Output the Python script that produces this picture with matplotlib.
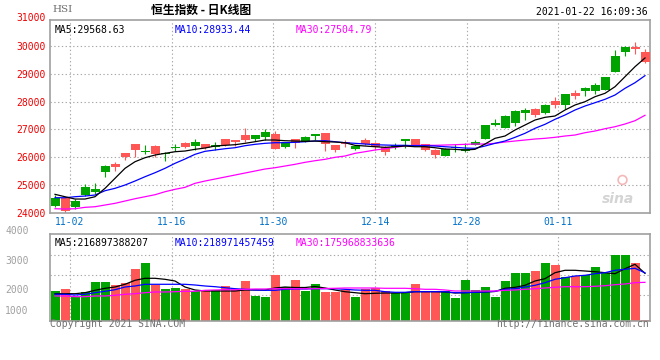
import matplotlib
matplotlib.use("Agg")
import matplotlib.pyplot as plt
import matplotlib.transforms as mtransforms

plt.rcParams['font.family'] = ['DejaVu Sans Mono']

# ---- data (HSI daily, 2020-10-29 .. 2021-01-22) ----
tick_labels = ['11-02', '11-16', '11-30', '12-14', '12-28', '01-11']
tick_index = [2, 12, 22, 32, 41, 50]

opens = [24240, 24539, 24193, 24636, 24755, 25475, 25752, 26137, 26472, 26172,
         26400, 26101, 26339, 26508, 26400, 26460, 26375, 26652, 26616, 26796,
         26663, 26724, 26832, 26375, 26652, 26555, 26771, 26868, 26436, 26555,
         26292, 26616, 26520, 26375, 26375, 26591, 26652, 26472, 26267, 26051,
         26339, 26231, 26436, 26652, 27156, 27060, 27240, 27588, 27732, 27588,
         28020, 27888, 28319, 28391, 28391, 28416, 29064, 29784, 29964, 29795]
highs = [24636, 24560, 24500, 25032, 25080, 25700, 25824, 26160, 26480, 26436,
         26436, 26180, 26472, 26530, 26640, 26480, 26544, 26670, 26630, 27048,
         26810, 27012, 26940, 26560, 26670, 26760, 26850, 26880, 26450, 26620,
         26420, 26680, 26540, 26390, 26520, 26670, 26670, 26490, 26280, 26320,
         26460, 26500, 26630, 27170, 27372, 27500, 27680, 27756, 27780, 27920,
         28164, 28290, 28416, 28510, 28680, 28900, 29856, 29990, 30144, 29880]
lows = [24204, 23960, 24150, 24600, 24672, 25295, 25510, 25896, 26015, 26112,
        26015, 25871, 26210, 26340, 26256, 26300, 26256, 26400, 26400, 26544,
        26580, 26616, 26280, 26330, 26328, 26540, 26616, 26220, 26195, 26380,
        26270, 26450, 26250, 26076, 26280, 26340, 26390, 26230, 25957, 26040,
        26190, 26200, 26420, 26640, 27120, 27040, 27130, 27336, 27430, 27570,
        27768, 27730, 28100, 28200, 28270, 28400, 29050, 29640, 29712, 29400]
closes = [24539, 24072, 24420, 24912, 24852, 25680, 25655, 25993, 26256, 26220,
          26112, 26159, 26375, 26375, 26555, 26330, 26447, 26436, 26544, 26605,
          26796, 26904, 26292, 26533, 26497, 26713, 26832, 26472, 26256, 26483,
          26400, 26472, 26353, 26173, 26436, 26652, 26411, 26267, 26087, 26303,
          26375, 26292, 26544, 27156, 27228, 27480, 27660, 27696, 27516, 27876,
          27888, 28272, 28211, 28488, 28596, 28884, 29640, 29964, 29892, 29424]

ma5 = [24661, 24575, 24492, 24492, 24575, 24877, 25237, 25597, 25835, 25979,
       26076, 26137, 26195, 26220, 26281, 26328, 26400, 26425, 26447, 26497,
       26555, 26616, 26616, 26591, 26580, 26569, 26580, 26555, 26544, 26519,
       26425, 26400, 26375, 26353, 26375, 26400, 26375, 26375, 26339, 26292,
       26281, 26256, 26281, 26472, 26677, 26760, 26976, 27156, 27336, 27433,
       27480, 27696, 27876, 27995, 28175, 28297, 28535, 28895, 29255, 29569]
ma10 = [24539, 24539, 24575, 24600, 24636, 24791, 24877, 24996, 25140, 25295,
        25439, 25597, 25777, 25932, 26101, 26209, 26256, 26303, 26339, 26411,
        26461, 26497, 26519, 26519, 26533, 26555, 26580, 26591, 26555, 26519,
        26497, 26472, 26447, 26436, 26425, 26425, 26411, 26411, 26400, 26375,
        26353, 26328, 26317, 26400, 26497, 26580, 26713, 26857, 27037, 27181,
        27361, 27516, 27696, 27840, 27959, 28081, 28236, 28477, 28679, 28933]
ma30 = [24143, 24132, 24143, 24193, 24215, 24276, 24337, 24420, 24503, 24575,
        24647, 24755, 24841, 24913, 25057, 25140, 25212, 25284, 25356, 25428,
        25500, 25572, 25619, 25680, 25741, 25813, 25871, 25921, 25993, 26040,
        26137, 26195, 26256, 26303, 26353, 26400, 26425, 26425, 26425, 26436,
        26447, 26461, 26472, 26472, 26497, 26544, 26580, 26616, 26652, 26677,
        26713, 26760, 26796, 26879, 26940, 27023, 27095, 27192, 27311, 27505]

# turnover, 1e8 HKD
volume = [1379, 1456, 1106, 1320, 1788, 1788, 1638, 1743, 2380, 2653,
          1652, 1456, 1515, 1456, 1379, 1411, 1411, 1593, 1411, 1834,
          1151, 1106, 2093, 1561, 1866, 1379, 1684, 1333, 1333, 1411,
          1106, 1442, 1488, 1365, 1288, 1288, 1684, 1365, 1365, 1365,
          1060, 1879, 1424, 1547, 1106, 1820, 2184, 2184, 2275, 2653,
          2548, 2002, 2048, 2093, 2457, 2184, 3003, 3003, 2639, 40]
vol_ma5 = [1242, 1242, 1242, 1288, 1397, 1488, 1547, 1670, 1852, 1943,
           1943, 1897, 1820, 1547, 1411, 1365, 1365, 1365, 1365, 1411,
           1411, 1411, 1502, 1547, 1524, 1524, 1570, 1502, 1411, 1333,
           1288, 1242, 1260, 1274, 1274, 1288, 1333, 1333, 1333, 1320,
           1274, 1288, 1306, 1320, 1342, 1488, 1533, 1624, 1820, 1925,
           2198, 2307, 2307, 2275, 2243, 2198, 2152, 2380, 2580, 2169]
vol_ma10 = [1215, 1215, 1183, 1215, 1288, 1351, 1424, 1547, 1593, 1670,
            1670, 1670, 1670, 1670, 1638, 1593, 1561, 1515, 1470, 1442,
            1411, 1397, 1397, 1442, 1456, 1456, 1470, 1470, 1470, 1442,
            1411, 1397, 1397, 1333, 1306, 1306, 1333, 1333, 1333, 1333,
            1288, 1288, 1306, 1320, 1351, 1442, 1470, 1547, 1624, 1743,
            1897, 1970, 2048, 2079, 2152, 2198, 2307, 2352, 2398, 2190]
vol_ma30 = [1138, 1138, 1106, 1106, 1138, 1138, 1169, 1215, 1242, 1288,
            1320, 1320, 1333, 1351, 1351, 1397, 1411, 1424, 1424, 1442,
            1456, 1456, 1470, 1470, 1470, 1470, 1470, 1479, 1488, 1502,
            1502, 1502, 1502, 1488, 1488, 1488, 1470, 1442, 1442, 1411,
            1365, 1365, 1365, 1365, 1365, 1397, 1411, 1442, 1470, 1502,
            1533, 1561, 1561, 1561, 1579, 1606, 1652, 1684, 1743, 1760]

price_ticks = [24000, 25000, 26000, 27000, 28000, 29000, 30000]
vol_labels = ['4000', '3000', '2000', '1000']

GREEN = '#00a400'
RED = '#ff5656'
GRID = '#a8a8a8'
BORDER = '#a0a0a0'

W, H = 660, 360


def fx(x):
    return x / W


def fy(y):
    return 1 - y / H


fig = plt.figure(figsize=(6.6, 3.6), dpi=100)
fig.patch.set_facecolor('white')

ax = fig.add_axes([fx(50), fy(212.7), 599.5 / W, 192.7 / H])
axv = fig.add_axes([fx(50), fy(321), 599.5 / W, 86.7 / H])

n = len(closes)
xs = list(range(n))
cols = [GREEN if c >= o else RED for o, c in zip(opens, closes)]
grid_x = [i * 1.017 - 0.53 for i in tick_index]

# ---- price panel ----
ax.vlines(xs, lows, highs, colors=cols, lw=0.8, zorder=2)
body_bottom = [min(o, c) for o, c in zip(opens, closes)]
body_h = [max(abs(c - o), 36) for o, c in zip(opens, closes)]
ax.bar(xs, body_h, 0.9, bottom=body_bottom, color=cols, zorder=3)
ax.plot(xs, ma30, color='#ff00ff', lw=0.9, zorder=4)
ax.plot(xs, ma10, color='#0000ff', lw=0.9, zorder=4)
ax.plot(xs, ma5, color='black', lw=0.9, zorder=4)

ax.set_xlim(-0.5, 59.45)
ax.set_ylim(24000, 30936)
ax.set_yticks(price_ticks)
ax.set_yticklabels([str(t) for t in price_ticks], color='#ee0000', fontsize=7)
ax.set_xticks(grid_x)
ax.set_xticklabels(tick_labels, color='#0070c8', fontsize=7)
ax.tick_params(length=0, pad=3)
for t in price_ticks[1:]:
    ax.axhline(t, color=GRID, lw=0.8, ls=(0, (1.2, 2.2)), zorder=1)
for gx in grid_x:
    ax.axvline(gx, color=GRID, lw=0.8, ls=(0, (1.2, 2.2)), zorder=1)
for s in ax.spines.values():
    s.set_color(BORDER)
    s.set_linewidth(1.2)

trans = mtransforms.blended_transform_factory(ax.transAxes, ax.transData)
ax.text(-0.007, 31000, '31000', transform=trans, ha='right', va='center',
        color='#ee0000', fontsize=7, clip_on=False)

ax.text(0.008, 0.975, 'MA5:29568.63', transform=ax.transAxes, color='black',
        fontsize=7, va='top', ha='left')
ax.text(0.208, 0.975, 'MA10:28933.44', transform=ax.transAxes, color='#0000ff',
        fontsize=7, va='top', ha='left')
ax.text(0.409, 0.975, 'MA30:27504.79', transform=ax.transAxes, color='#ff00ff',
        fontsize=7, va='top', ha='left')

# sina watermark
ax.text(0.975, 0.07, 'sina', transform=ax.transAxes, color='#d4d4d4',
        fontsize=10, fontweight='bold', style='italic', ha='right', va='center',
        family='DejaVu Sans', zorder=0)
ax.scatter([0.955], [0.17], transform=ax.transAxes, s=40, facecolors='none',
           edgecolors='#f4b8b8', lw=1.2, zorder=0)

# ---- volume panel ----
axv.bar(xs, volume, 0.9, color=cols, zorder=2)
axv.plot(xs, vol_ma5, color='black', lw=0.9, zorder=3)
axv.plot(xs, vol_ma10, color='#0000ff', lw=0.9, zorder=3)
axv.plot(xs, vol_ma30, color='#ff00ff', lw=0.9, zorder=3)
axv.set_xlim(-0.5, 59.45)
axv.set_ylim(0, 3945)
axv.set_xticks([])
axv.set_yticks([])
for t in [2989, 2079, 1169]:
    axv.axhline(t, color=GRID, lw=0.8, ls=(0, (1.2, 2.2)), zorder=1)
for gx in grid_x:
    axv.axvline(gx, color=GRID, lw=0.8, ls=(0, (1.2, 2.2)), zorder=1)
for s in axv.spines.values():
    s.set_color(BORDER)
    s.set_linewidth(1.2)

axv.text(0.008, 0.96, 'MA5:216897388207', transform=axv.transAxes,
         color='black', fontsize=7, va='top', ha='left')
axv.text(0.208, 0.96, 'MA10:218971457459', transform=axv.transAxes,
         color='#0000ff', fontsize=7, va='top', ha='left')
axv.text(0.409, 0.96, 'MA30:175968833636', transform=axv.transAxes,
         color='#ff00ff', fontsize=7, va='top', ha='left')

for lab, y in zip(vol_labels, [230.7, 260.7, 290, 310.7]):
    fig.text(fx(28.5), fy(y), lab, ha='right', va='center', color='#a0a0a0',
             fontsize=7)

# ---- header / footer ----
fig.text(fx(52), fy(9), 'HSI', ha='left', va='center', color='#707070',
         fontsize=7.5, family='DejaVu Serif')
fig.text(fx(201), fy(10), '恒生指数 - 日K线图', ha='center', va='center',
         color='black', fontsize=8.5, fontweight='bold',
         family=['Noto Sans CJK SC', 'DejaVu Sans'])
fig.text(fx(648), fy(12), '2021-01-22 16:09:36', ha='right', va='center',
         color='black', fontsize=7)
fig.text(fx(50), fy(324), 'Copyright 2021 SINA.COM', ha='left', va='center',
         color='#707070', fontsize=7)
fig.text(fx(649), fy(324), 'http://finance.sina.com.cn', ha='right',
         va='center', color='#707070', fontsize=7)

fig.savefig('out.png', dpi=100)
